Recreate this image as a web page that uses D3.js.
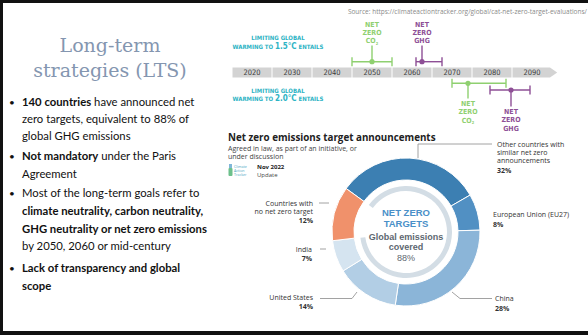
<!DOCTYPE html>
<html>
<head>
<meta charset="utf-8">
<script src="https://cdn.jsdelivr.net/npm/d3@7"></script>
<style>
  html, body { margin: 0; padding: 0; background: #fff; }
  svg { display: block; }
  .cond { font-family: "Liberation Sans Narrow", "DejaVu Sans Condensed", "Roboto", sans-serif; }
  .ui { font-family: "Open Sans", "Noto Sans", sans-serif; }
</style>
</head>
<body>
<svg id="slide" width="588" height="335"></svg>
<script>
// ---- Donut: share of global emissions ----
const categories = [
  "Other countries with similar net zero announcements",
  "European Union (EU27)",
  "China",
  "United States",
  "India",
  "Countries with no net zero target"
];
const shares = [32, 8, 28, 14, 7, 12];
const coveredShare = 88;

// ---- Timeline: decades and IPCC net zero milestones ----
const decades = [2020, 2030, 2040, 2050, 2060, 2070, 2080, 2090];
const milestoneNames = ["NET ZERO CO2", "NET ZERO GHG", "NET ZERO CO2", "NET ZERO GHG"];
const milestonePathway = ["1.5", "1.5", "2.0", "2.0"];
const milestoneLow  = [2045, 2061, 2070, 2079.5];
const milestoneMid  = [2050, 2062.5, 2074, 2084.75];
const milestoneHigh = [2055, 2067.5, 2083.5, 2089.5];

// ---- Bullet text ----
const bulletLines = [
  [["•", "dot"], ["140 countries", "b"], [" have announced net", "n"]],
  [["zero targets, equivalent to 88% of", "n"]],
  [["global GHG emissions", "n"]],
  [["•", "dot"], ["Not mandatory", "b"], [" under the Paris", "n"]],
  [["Agreement", "n"]],
  [["•", "dot"], ["Most of the long-term goals refer to", "n"]],
  [["climate neutrality, carbon neutrality,", "b"]],
  [["GHG neutrality or net zero emissions", "b"]],
  [["by 2050, 2060 or mid-century", "n"]],
  [["•", "dot"], ["Lack of transparency and global", "b"]],
  [["scope", "b"]]
];
const bulletY = [106, 123, 140, 160, 178, 197, 215, 233, 250, 272, 290];

const svg = d3.select("#slide");
svg.append("rect").attr("width", 588).attr("height", 335).attr("fill", "#fff");

// slide frame
svg.append("rect").attr("x", 0).attr("y", 0).attr("width", 588).attr("height", 3).attr("fill", "#111");
svg.append("rect").attr("x", 0).attr("y", 0).attr("width", 3).attr("height", 335).attr("fill", "#111");
svg.append("rect").attr("x", 0).attr("y", 331).attr("width", 588).attr("height", 4).attr("fill", "#111");

// ---- Left column ----
const title = svg.append("text")
  .attr("text-anchor", "middle")
  .attr("font-family", "'DejaVu Serif', 'Liberation Serif', serif")
  .attr("font-size", 19)
  .attr("fill", "#8496b0");
title.append("tspan").attr("x", 110).attr("y", 52).text("Long-term");
title.append("tspan").attr("x", 110).attr("y", 77).text("strategies (LTS)");

const bullets = svg.append("g").attr("font-family", "Lato, 'Open Sans', sans-serif").attr("font-size", 11.3).attr("fill", "#111");
bulletLines.forEach((parts, i) => {
  const t = bullets.append("text").attr("x", 22).attr("y", bulletY[i]);
  parts.forEach(([txt, kind]) => {
    if (kind === "dot") {
      bullets.append("text").attr("x", 9).attr("y", bulletY[i]).attr("font-size", 10).text(txt);
    } else {
      t.append("tspan").attr("font-weight", kind === "b" ? 700 : 400).text(txt);
    }
  });
});

// ---- Source line ----
svg.append("text")
  .attr("class", "ui")
  .attr("x", 587).attr("y", 14)
  .attr("text-anchor", "end")
  .attr("font-size", 6.5)
  .attr("fill", "#8a8a8a")
  .text("Source: https://climateactiontracker.org/global/cat-net-zero-target-evaluations/");

// ---- Timeline ----
const x = d3.scaleLinear().domain([2020, 2090]).range([252, 532]);
const barTop = 67.5, barH = 10;
const tl = svg.append("g");
decades.forEach((d, i) => {
  const x0 = x(d - 5) + 0.5;
  const x1 = i === decades.length - 1 ? x(d + 4.5) : x(d + 5) - 0.5;
  tl.append("rect").attr("x", x0).attr("y", barTop).attr("width", x1 - x0).attr("height", barH).attr("fill", "#d3d3d3");
  if (i === decades.length - 1) {
    tl.append("path")
      .attr("d", `M${x1},${barTop}L${x(d + 6.3)},${barTop + barH / 2}L${x1},${barTop + barH}Z`)
      .attr("fill", "#d3d3d3");
  }
  tl.append("text").attr("class", "cond")
    .attr("x", x(d)).attr("y", barTop + 7.5)
    .attr("text-anchor", "middle").attr("font-size", 7.5).attr("fill", "#3a3a3a")
    .text(d);
});

const green = "#8fd070", purple = "#8e4f96", teal = "#2db3c4";
const lowerRows = [83.3, 90];
milestoneNames.forEach((name, i) => {
  const col = name.endsWith("CO2") ? green : purple;
  const isUpper = milestonePathway[i] === "1.5";
  const yBar = isUpper ? 61.7 : lowerRows[i - 2];
  const yStem = isUpper ? 45.5 : (i === 2 ? 98.5 : 106.5);
  const g = tl.append("g").attr("stroke", col).attr("stroke-width", 1.4);
  g.append("line").attr("x1", x(milestoneLow[i])).attr("x2", x(milestoneHigh[i])).attr("y1", yBar).attr("y2", yBar);
  [milestoneLow[i], milestoneHigh[i]].forEach(v => {
    g.append("line").attr("x1", x(v)).attr("x2", x(v)).attr("y1", yBar - 4.5).attr("y2", yBar + 4.5);
  });
  g.append("line").attr("x1", x(milestoneMid[i])).attr("x2", x(milestoneMid[i])).attr("y1", yBar).attr("y2", yStem);
  g.append("circle").attr("cx", x(milestoneMid[i])).attr("cy", yBar).attr("r", 2.6).attr("fill", col).attr("stroke", "none");

  const words = name.split(" ");
  const firstY = isUpper ? 26.5 : yStem + 7.5;
  const lab = tl.append("text").attr("class", "cond").attr("text-anchor", "middle")
    .attr("font-size", 7).attr("font-weight", 700).attr("fill", col);
  words.forEach((w, k) => {
    const ts = lab.append("tspan").attr("x", x(milestoneMid[i])).attr("y", firstY + k * 8.3);
    if (w === "CO2") {
      ts.text("CO");
      lab.append("tspan").attr("font-size", 4).attr("dy", 1.5).text("2");
    } else {
      ts.text(w);
    }
  });
});

// pathway captions
[["1.5", 40, 49], ["2.0", 92.5, 101]].forEach(([deg, y1, y2]) => {
  tl.append("text").attr("class", "cond").attr("x", 278).attr("y", y1)
    .attr("text-anchor", "middle").attr("font-size", 6).attr("font-weight", 700).attr("fill", teal)
    .text("LIMITING GLOBAL");
  const t2 = tl.append("text").attr("class", "cond").attr("x", 278).attr("y", y2)
    .attr("text-anchor", "middle").attr("font-size", 6).attr("font-weight", 700).attr("fill", teal);
  t2.append("tspan").text("WARMING TO ");
  t2.append("tspan").attr("font-size", 8).text(deg + "°C");
  t2.append("tspan").text(" ENTAILS");
});

// ---- Donut chart ----
const cx = 406, cy = 232;
const colors = ["#3c7fb2", "#5190c3", "#8bb5d8", "#b2cee5", "#d5e4f0", "#f0916b"];
const start = -54 * Math.PI / 180;
const pie = d3.pie().sort(null).startAngle(start).endAngle(start + 2 * Math.PI);
const arcs = pie(shares);
const arc = d3.arc().innerRadius(52).outerRadius(74);
const donut = svg.append("g").attr("transform", `translate(${cx},${cy})`);
donut.selectAll("path.slice").data(arcs).join("path")
  .attr("class", "slice")
  .attr("d", arc)
  .attr("fill", (d, i) => colors[i])
  .attr("stroke", "#fff").attr("stroke-width", 1);

// inner ring showing covered emissions
donut.append("path")
  .attr("d", d3.arc().innerRadius(41).outerRadius(46)({ startAngle: start, endAngle: start + 2 * Math.PI * coveredShare / 100 }))
  .attr("fill", "#d3dde5");

// centre caption
const centerLines = [
  { t: "NET ZERO", y: 215.5, size: 9.5, weight: 700, fill: "#4a90c8" },
  { t: "TARGETS", y: 226.5, size: 9.5, weight: 700, fill: "#4a90c8" },
  { t: "Global emissions", y: 239.5, size: 9, weight: 700, fill: "#5d6770" },
  { t: "covered", y: 250, size: 9, weight: 700, fill: "#5d6770" },
  { t: coveredShare + "%", y: 260.5, size: 9, weight: 400, fill: "#5d6770" }
];
const center = svg.append("g").attr("font-family", "'Liberation Sans', Arial, sans-serif").attr("text-anchor", "middle");
centerLines.forEach(l => {
  center.append("text").attr("x", cx).attr("y", l.y)
    .attr("font-size", l.size).attr("font-weight", l.weight).attr("fill", l.fill).text(l.t);
});

// chart heading
const head = svg.append("g").attr("class", "ui");
head.append("text").attr("x", 228).attr("y", 141).attr("font-size", 9.8).attr("font-weight", 700).attr("fill", "#222")
  .text("Net zero emissions target announcements");
head.append("text").attr("x", 228).attr("y", 151).attr("font-size", 7).attr("fill", "#444")
  .text("Agreed in law, as part of an initiative, or");
head.append("text").attr("x", 228).attr("y", 159).attr("font-size", 7).attr("fill", "#444")
  .text("under discussion");

// CAT update badge
const badge = svg.append("g");
badge.append("rect").attr("x", 229).attr("y", 164).attr("width", 3).attr("height", 4).attr("fill", "#7fb7d8");
badge.append("rect").attr("x", 228.5).attr("y", 168).attr("width", 4).attr("height", 8).attr("rx", 1).attr("fill", "#6cc08b");
[["Climate", 168], ["Action", 172], ["Tracker", 176]].forEach(([w, y]) => {
  badge.append("text").attr("class", "ui").attr("x", 234).attr("y", y).attr("font-size", 3.6).attr("fill", "#4aa6c4").text(w);
});
badge.append("text").attr("class", "ui").attr("x", 257).attr("y", 169).attr("font-size", 6).attr("font-weight", 700).attr("fill", "#222").text("Nov 2022");
badge.append("text").attr("class", "ui").attr("x", 257).attr("y", 176.5).attr("font-size", 6).attr("fill", "#444").text("Update");

// slice labels and leaders
const labelSpecs = [
  { lines: ["Other countries with", "similar net zero", "announcements"], x: 497, y: 147, anchor: "start",
    leader: [[418, 158], [418, 144], [492, 144]] },
  { lines: ["European Union (EU27)"], x: 493, y: 217, anchor: "start", leader: null },
  { lines: ["China"], x: 495, y: 301, anchor: "start",
    leader: [[452, 292], [460, 298.5], [492, 298.5]] },
  { lines: ["United States"], x: 313, y: 299.5, anchor: "end",
    leader: [[357, 292], [352, 298.5], [320, 298.5]] },
  { lines: ["India"], x: 312, y: 251.5, anchor: "end", leader: [[320, 249], [326, 249]] },
  { lines: ["Countries with", "no net zero target"], x: 313, y: 205.5, anchor: "end", leader: [[319, 203], [329, 203]] }
];
const labels = svg.append("g").attr("class", "ui").attr("font-size", 7).attr("fill", "#333");
labelSpecs.forEach((s, i) => {
  const t = labels.append("text").attr("text-anchor", s.anchor);
  s.lines.forEach((ln, k) => t.append("tspan").attr("x", s.x).attr("y", s.y + k * 8).text(ln));
  labels.append("text").attr("text-anchor", s.anchor).attr("x", s.x)
    .attr("y", s.y + s.lines.length * 8 + 1.5)
    .attr("font-weight", 700).text(shares[i] + "%");
  if (s.leader) {
    labels.append("path").attr("d", d3.line()(s.leader)).attr("fill", "none")
      .attr("stroke", "#8a8a8a").attr("stroke-width", 0.8);
  }
});
</script>
</body>
</html>
